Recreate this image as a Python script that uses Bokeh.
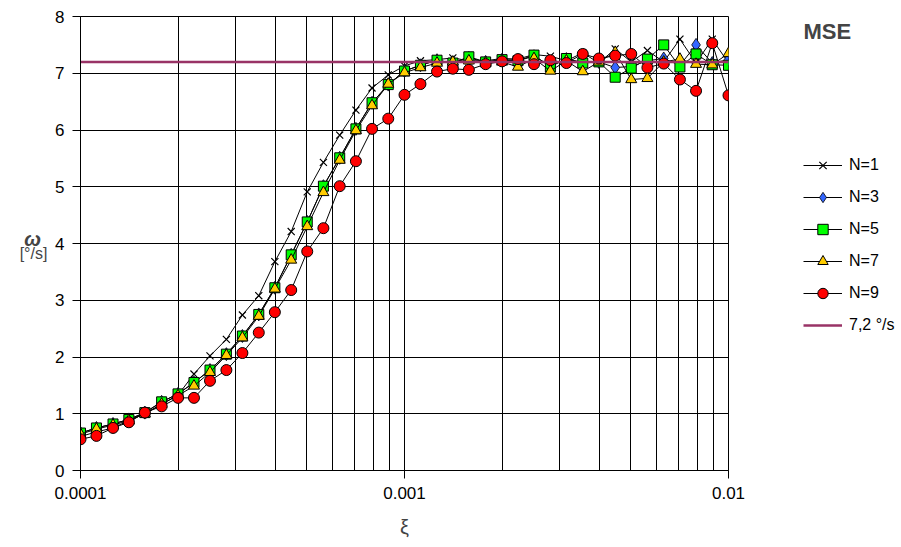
from bokeh.plotting import figure
from bokeh.layouts import row
from bokeh.models import Range1d, FixedTicker, CustomJSTickFormatter, Legend, LegendItem, Label
from bokeh.embed import file_html
from bokeh.resources import INLINE

xi = [0.0001, 0.000112, 0.000126, 0.000141, 0.000158, 0.000178, 0.0002, 0.000224,
      0.000251, 0.000282, 0.000316, 0.000355, 0.000398, 0.000447, 0.000501, 0.000562,
      0.000631, 0.000708, 0.000794, 0.000891, 0.001, 0.00112, 0.00126, 0.00141,
      0.00158, 0.00178, 0.002, 0.00224, 0.00251, 0.00282, 0.00316, 0.00355,
      0.00398, 0.00447, 0.00501, 0.00562, 0.00631, 0.00708, 0.00794, 0.00891, 0.01]

n1 = [0.60, 0.68, 0.75, 0.88, 1.00, 1.17, 1.33, 1.70, 2.02, 2.31, 2.74, 3.08, 3.68, 4.21,
      4.91, 5.43, 5.91, 6.35, 6.74, 6.97, 7.13, 7.22, 7.24, 7.27, 7.22, 7.22, 7.26, 7.25,
      7.33, 7.30, 7.22, 7.36, 7.18, 7.43, 7.20, 7.40, 7.20, 7.60, 7.18, 7.60, 7.18]
n3 = [0.66, 0.75, 0.82, 0.90, 1.02, 1.21, 1.35, 1.55, 1.77, 2.05, 2.37, 2.75, 3.22, 3.80,
      4.38, 5.01, 5.51, 6.02, 6.48, 6.80, 7.04, 7.14, 7.23, 7.18, 7.27, 7.20, 7.24, 7.22,
      7.30, 7.13, 7.25, 7.19, 7.20, 7.10, 7.12, 7.22, 7.26, 7.14, 7.50, 7.18, 7.24]
n5 = [0.66, 0.75, 0.82, 0.90, 1.02, 1.21, 1.35, 1.55, 1.77, 2.05, 2.37, 2.75, 3.22, 3.80,
      4.38, 5.01, 5.51, 6.02, 6.48, 6.80, 7.04, 7.14, 7.23, 7.18, 7.29, 7.20, 7.24, 7.22,
      7.32, 7.11, 7.26, 7.18, 7.20, 6.93, 7.09, 7.25, 7.50, 7.11, 7.34, 7.15, 7.14]
n7 = [0.64, 0.73, 0.80, 0.88, 1.00, 1.17, 1.32, 1.49, 1.73, 2.03, 2.34, 2.72, 3.20, 3.71,
      4.30, 4.90, 5.47, 5.99, 6.43, 6.81, 7.01, 7.10, 7.18, 7.20, 7.22, 7.18, 7.20, 7.11,
      7.26, 7.04, 7.22, 7.03, 7.20, 7.37, 6.89, 6.91, 7.20, 7.25, 7.16, 7.15, 7.35]
n9 = [0.55, 0.61, 0.75, 0.85, 1.02, 1.13, 1.28, 1.28, 1.58, 1.77, 2.07, 2.43, 2.79, 3.18,
      3.86, 4.27, 5.01, 5.45, 6.02, 6.20, 6.62, 6.81, 7.03, 7.08, 7.06, 7.16, 7.21, 7.25,
      7.16, 7.23, 7.18, 7.34, 7.26, 7.31, 7.34, 7.10, 7.17, 6.89, 6.69, 7.53, 6.61]
ref_x = [0.0001, 0.01]
ref_y = [7.2, 7.2]

x_major = [0.0001, 0.001, 0.01]
x_minor = [m * d for d in (0.0001, 0.001) for m in range(2, 10)]
y_ticks = [0, 1, 2, 3, 4, 5, 6, 7, 8]

series = [
    ("N=1", n1, dict(marker="x", size=10, line_color="black", line_width=1.2)),
    ("N=3", n3, dict(marker="diamond", size=13, fill_color="#3366ff", line_color="black", line_width=0.8)),
    ("N=5", n5, dict(marker="square", size=10, fill_color="#00ff00", line_color="black", line_width=1)),
    ("N=7", n7, dict(marker="triangle", size=11, fill_color="#ffcc00", line_color="black", line_width=1)),
    ("N=9", n9, dict(marker="circle", size=11, fill_color="#ff0000", line_color="black", line_width=1)),
]
REF_COLOR = "#993366"
FONT = "Liberation Sans"
H = 545
FH = 454   # frame height shared by the row (frames are aligned)

# ---------- left strip with the y-axis title ----------
left = figure(width=50, height=H, output_backend="svg", toolbar_location=None,
              x_range=Range1d(0, 50), y_range=Range1d(0, FH),
              x_axis_location=None, y_axis_location=None, min_border=0)
left.outline_line_color = None
left.grid.visible = False
left.add_layout(Label(x=32, y=470 - 238, text="ω", text_font=FONT, text_font_size="20px",
                      text_font_style="bold italic", text_align="center", text_baseline="middle"))
left.add_layout(Label(x=33, y=470 - 253, text="[°/s]", text_font=FONT, text_font_size="16px",
                      text_align="center", text_baseline="middle"))

# ---------- main chart ----------
p = figure(width=710, height=H, x_axis_type="log", output_backend="svg",
           toolbar_location=None, x_range=Range1d(0.0001, 0.01), y_range=Range1d(0, 8),
           min_border_left=30, min_border_right=32, min_border_top=16, min_border_bottom=H - 470)
p.outline_line_color = "black"
p.outline_line_width = 1

p.xaxis.ticker = FixedTicker(ticks=x_major, minor_ticks=x_minor)
p.xaxis.formatter = CustomJSTickFormatter(code="return tick.toPrecision(1);")
p.yaxis.ticker = FixedTicker(ticks=y_ticks)
for ax in (p.xaxis, p.yaxis):
    ax.axis_line_color = "black"
    ax.major_tick_line_color = "black"
    ax.major_tick_out = 8
    ax.major_tick_in = 0
    ax.minor_tick_line_color = None
    ax.major_label_text_font = FONT
    ax.major_label_text_font_size = "17px"
    ax.major_label_text_color = "black"
p.xaxis.major_label_standoff = 8
p.yaxis.major_label_standoff = 8
p.xaxis.axis_label = "ξ"
p.xaxis.axis_label_text_font = FONT
p.xaxis.axis_label_text_font_size = "20px"
p.xaxis.axis_label_text_font_style = "normal"
p.xaxis.axis_label_standoff = 14

p.xgrid.grid_line_color = "black"
p.xgrid.grid_line_width = 1
p.xgrid.minor_grid_line_color = "black"
p.xgrid.minor_grid_line_width = 1
p.ygrid.grid_line_color = "black"
p.ygrid.grid_line_width = 1

for name, ys, style in series:
    p.line(xi, ys, line_color="black", line_width=1)
    p.scatter(xi, ys, **style)
p.line(ref_x, ref_y, line_color=REF_COLOR, line_width=2.5)

# ---------- right strip with title and legend ----------
LW = 139
lg = figure(width=LW, height=H, output_backend="svg", toolbar_location=None,
            x_range=Range1d(0, LW), y_range=Range1d(0, FH),
            x_axis_location=None, y_axis_location=None, min_border=0)
lg.outline_line_color = None
lg.grid.visible = False
hx, hy = [-50, -40], [-50, -50]   # off-screen samples: only the legend shows them
items = []
for name, ys, style in series:
    r1 = lg.line(hx, hy, line_color="black", line_width=1)
    r2 = lg.scatter(hx, hy, **style)
    items.append(LegendItem(label=name, renderers=[r1, r2]))
rr = lg.line(hx, hy, line_color=REF_COLOR, line_width=2.5)
items.append(LegendItem(label="7,2 °/s", renderers=[rr]))

legend = Legend(items=items, location=(43, 470 - 338), orientation="vertical",
                glyph_width=39, glyph_height=26, label_height=26, spacing=6,
                label_standoff=7, padding=0, margin=0,
                border_line_color=None, background_fill_alpha=0,
                label_text_font=FONT, label_text_font_size="16px", label_text_color="black")
lg.add_layout(legend)
lg.add_layout(Label(x=43, y=470 - 31, text="MSE", text_font=FONT, text_font_size="22px",
                    text_font_style="bold", text_align="left", text_baseline="middle"))

open("out.html", "w").write(file_html(row(left, p, lg), INLINE))
